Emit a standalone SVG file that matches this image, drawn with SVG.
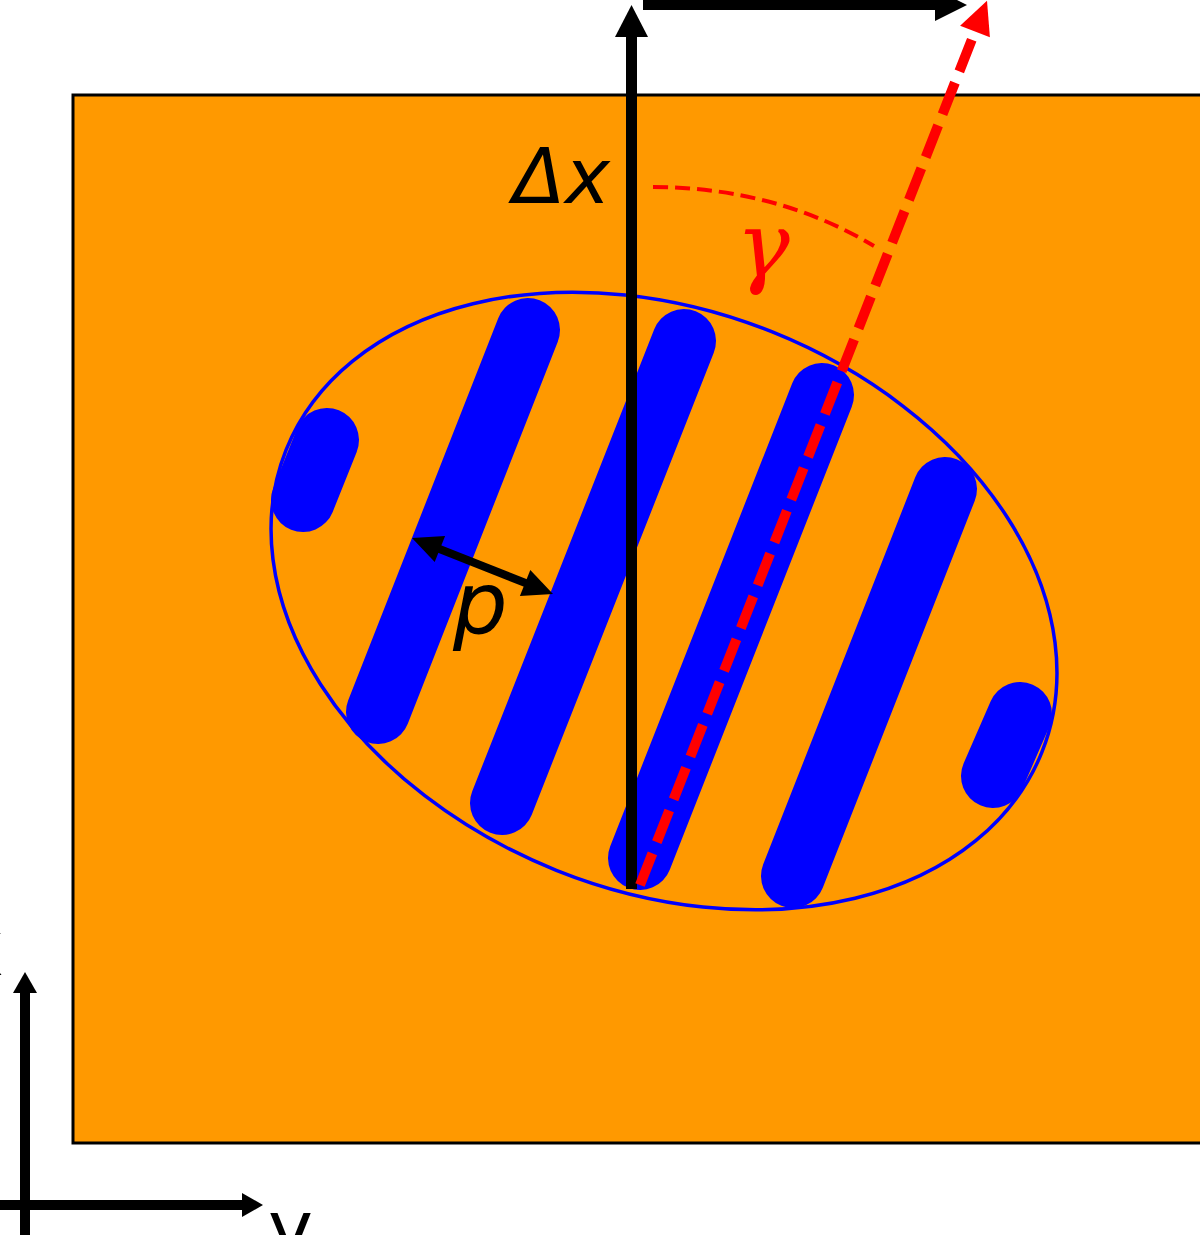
<svg xmlns="http://www.w3.org/2000/svg" width="1200" height="1235" viewBox="0 0 1200 1235">
<style>
.stripe{stroke:#0000FF;stroke-width:64;stroke-linecap:round;fill:none}
.blk{fill:#000}
.lbl{font-family:"DejaVu Sans","Liberation Sans",Arial,sans-serif;fill:#000}
</style>
<rect width="1200" height="1235" fill="#fff"/>
<g id="substrate">
<rect x="73" y="95" width="1145" height="1048" fill="#FF9900" stroke="#000" stroke-width="3"/>
</g>
<g id="ellipse">
<ellipse cx="664" cy="601" rx="407" ry="290" transform="rotate(21.8 664 601)" fill="none" stroke="#0000FF" stroke-width="3.5"/>
</g>
<g id="stripes">
<line class="stripe" x1="303" y1="500" x2="327" y2="440"/>
<line class="stripe" x1="378" y1="712" x2="528" y2="330"/>
<line class="stripe" x1="502" y1="803" x2="684" y2="341"/>
<line class="stripe" x1="640" y1="858" x2="822" y2="395"/>
<line class="stripe" x1="793" y1="876" x2="945" y2="489"/>
<line class="stripe" x1="993" y1="776" x2="1020" y2="714"/>
</g>
<g id="connectors">
<line x1="631.5" y1="889" x2="631.5" y2="36" stroke="#000" stroke-width="11"/>
<polygon class="blk" points="615,37 648,37 631.5,5"/>
<line x1="643" y1="5" x2="936" y2="5" stroke="#000" stroke-width="10"/>
<polygon class="blk" points="935,-11 935,21 967,5"/>
<line x1="640" y1="885" x2="975" y2="31.5" stroke="#FF0000" stroke-width="10" stroke-dasharray="34 12"/>
<polygon fill="#FF0000" points="987,0.8 989.9,37.3 960.1,25.7"/>
<path d="M653 187 Q776.5 187.5 874 246" fill="none" stroke="#FF0000" stroke-width="4" stroke-dasharray="15 7"/>
<line x1="437" y1="548" x2="528" y2="584" stroke="#000" stroke-width="8"/>
<polygon class="blk" points="412,538 445.1,536.1 434.7,562.1"/>
<polygon class="blk" points="553,594 530.3,569.9 519.9,595.9"/>
<line x1="25" y1="1240" x2="25" y2="992" stroke="#000" stroke-width="10"/>
<polygon class="blk" points="13,993 37,993 25,972"/>
<line x1="-5" y1="1205" x2="243" y2="1205" stroke="#000" stroke-width="10"/>
<polygon class="blk" points="242,1193 242,1217 263,1205"/>
</g>
<g id="labels">
<text class="lbl" x="610" y="203" font-size="76" font-style="italic" text-anchor="end">Δx</text>
<text class="lbl" x="453" y="633" font-size="86" font-style="italic">p</text>
<text x="736" y="276" font-size="90" font-style="italic" fill="#FF0000" font-family="'DejaVu Serif','Liberation Serif',serif">γ</text>
<text class="lbl" x="-41" y="975" font-size="76">x</text>
<text class="lbl" x="268" y="1255" font-size="76">y</text>
</g>
</svg>
